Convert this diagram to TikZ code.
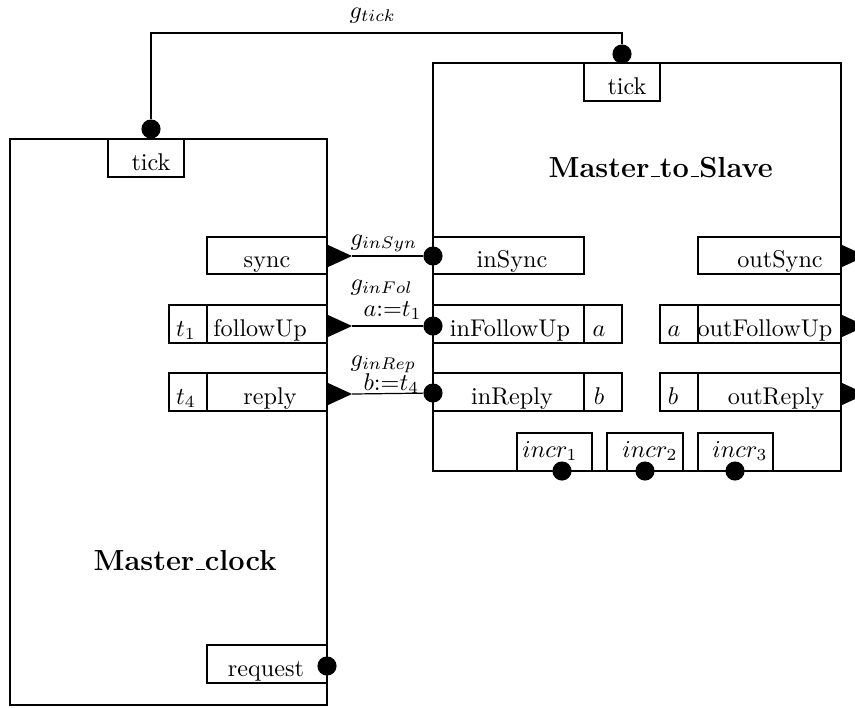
\documentclass[tikz,border=0pt]{standalone}
\usepackage{tikz}
\usepackage{amsmath}
\newcommand{\usc}{\leavevmode\kern.06em\vbox{\hrule width.3em}}

\begin{document}
\begin{tikzpicture}[x=0.4132pt, y=-0.4132pt, line width=0.5pt,
        dot/.style={circle, fill, inner sep=0pt, minimum size=7.9pt},
        txt/.style={anchor=base, inner sep=0pt},
        glbl/.style={anchor=base west, inner sep=0pt}]
        \useasboundingbox (0,0) rectangle (855,707);

        % the two automata
        \draw (10,139) rectangle (327,705);
        \draw (433,63) rectangle (841,471);
        \node[glbl] (clockname) at (93,570) {\large\bfseries Master\usc clock};
        \node[glbl] (slavename) at (548,177) {\large\bfseries Master\usc to\usc Slave};

        % port boxes
        \foreach \xa/\ya/\xb/\yb in {108/139/184/177, 584/63/660/101,
                207/237/327/274, 169/305/207/343, 207/305/327/343,
                169/373/207/411, 207/373/327/411, 207/645/327/683,
                433/237/584/274, 433/305/584/343, 584/305/622/343,
                433/373/584/411, 584/373/622/411,
                698/237/841/274, 660/305/698/343, 698/305/841/343,
                660/373/698/411, 698/373/841/411,
                517/433/592/471, 607/433/683/471, 698/433/773/471} {
            \draw (\xa,\ya) rectangle (\xb,\yb);
        }

        \node[txt] (tickL) at (151,170) {tick};
        \node[txt] (tickR) at (627,94) {tick};
        \node[txt] (sync) at (267,267) {sync};
        \node[txt] (tOne) at (186,336) {$t_1$};
        \node[txt] (followUp) at (260,336) {followUp};
        \node[txt] (tFour) at (186,404) {$t_4$};
        \node[txt] (reply) at (270,404) {reply};
        \node[txt] (request) at (266,676) {request};
        \node[txt] (inSync) at (512,267) {inSync};
        \node[txt] (inFollowUp) at (510,336) {inFollowUp};
        \node[txt] (aIn) at (599,336) {$a$};
        \node[txt] (inReply) at (512,404) {inReply};
        \node[txt] (bIn) at (599,404) {$b$};
        \node[txt] (outSync) at (780,267) {outSync};
        \node[txt] (aOut) at (674,336) {$a$};
        \node[txt] (outFollowUp) at (765,336) {outFollowUp};
        \node[txt] (bOut) at (673,404) {$b$};
        \node[txt] (outReply) at (776,404) {outReply};
        \foreach \x/\k in {550/1, 650/2, 740/3} {
            \node[txt] (incr\k) at (\x,457) {$incr_\k$};
        }

        % output triangles
        \foreach \y in {256,326,394} {
            \fill (327,\y-11.5) -- (352,\y) -- (327,\y+11.5) -- cycle;
            \fill (841,\y-11.5) -- (866,\y) -- (841,\y+11.5) -- cycle;
        }
        \coordinate (oSync) at (352,256);
        \coordinate (oFol) at (352,326);
        \coordinate (oRep) at (352,394);

        % input dots
        \node[dot] (dTickL) at (151,129) {};
        \node[dot] (dTickR) at (622,54) {};
        \node[dot] (dInSync) at (433,256) {};
        \node[dot] (dInFol) at (433,326) {};
        \node[dot] (dInRep) at (433,393) {};
        \node[dot] (dRequest) at (327,666) {};
        \foreach \x/\k in {562/1, 645/2, 735/3} {
            \node[dot] (dIncr\k) at (\x,471) {};
        }

        % synchronisations
        \coordinate (gtop) at (373,33);
        \draw (dTickL) |- (gtop) -| (dTickR);
        \node[glbl] (gTick) at (349,18) {$g_{tick}$};
        \draw (oSync) -- (dInSync);
        \draw (oFol) -- (dInFol);
        \draw (oRep) -- (dInRep);
        \node[glbl] (gInSyn) at (350,245) {$g_{inSyn}$};
        \node[glbl] (gInFol) at (350,290) {$g_{inFol}$};
        \node[glbl] (setA) at (363,316) {$a{:=}t_1$};
        \node[glbl] (gInRep) at (350,366) {$g_{inRep}$};
        \node[glbl] (setB) at (363,390) {$b{:=}t_4$};
\end{tikzpicture}
\end{document}
